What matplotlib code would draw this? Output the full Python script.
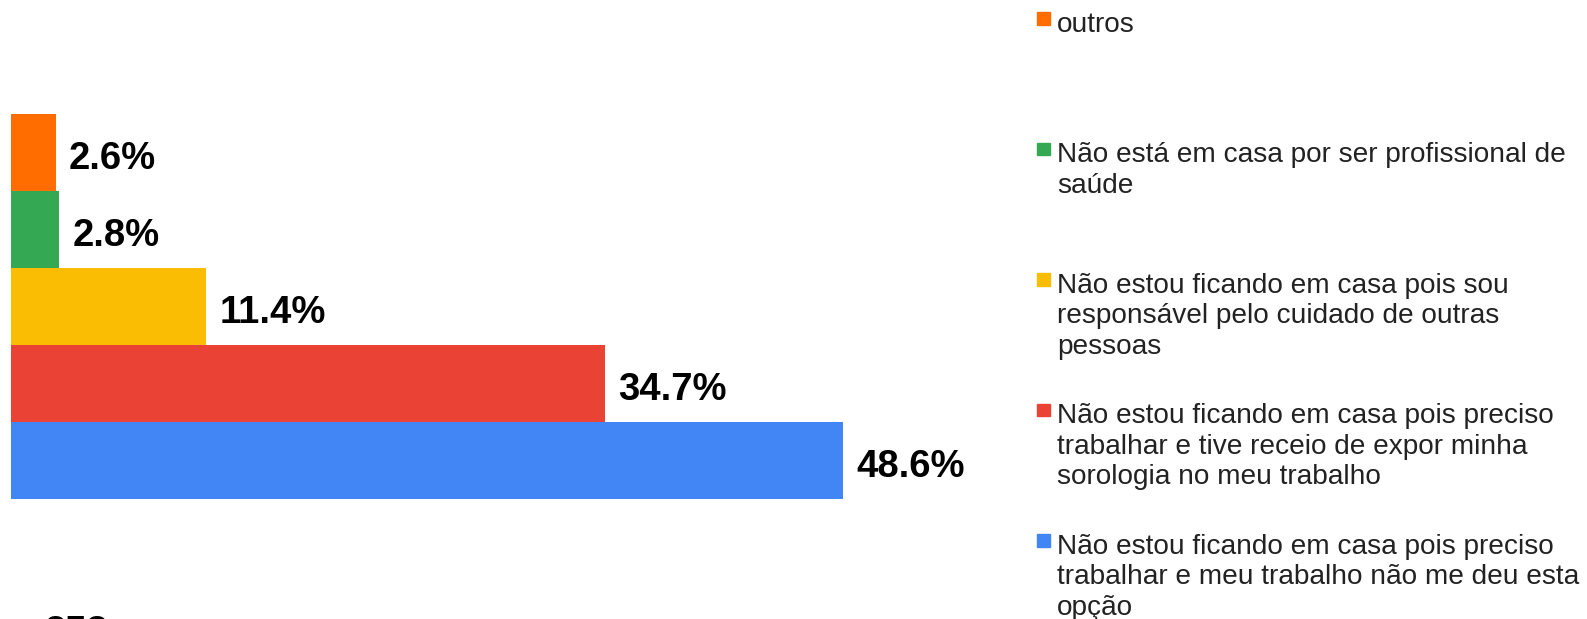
import matplotlib.pyplot as plt
import numpy as np

# respostas, de cima para baixo no gráfico
categorias = [
    'outros',
    'Não está em casa por ser profissional de\nsaúde',
    'Não estou ficando em casa pois sou\nresponsável pelo cuidado de outras\npessoas',
    'Não estou ficando em casa pois preciso\ntrabalhar e tive receio de expor minha\nsorologia no meu trabalho',
    'Não estou ficando em casa pois preciso\ntrabalhar e meu trabalho não me deu esta\nopção',
]
percentuais = [2.6, 2.8, 11.4, 34.7, 48.6]
cores = ['#ff6d01', '#34a853', '#fbbc04', '#ea4335', '#4285f4']
total = '253'

W, H = 1587, 619
plt.rcParams['font.family'] = ['Liberation Sans', 'DejaVu Sans']
fig = plt.figure(figsize=(W / 100, H / 100), dpi=100)

px_per_unit = 17.12
xmax = 58
ax = fig.add_axes([11 / W, (H - 499) / H, xmax * px_per_unit / W, 385 / H])

y = np.arange(len(percentuais))[::-1]
ax.barh(y, percentuais, height=1.0, color=cores, edgecolor='none')
ax.set_xlim(0, xmax)
ax.set_ylim(-0.5, len(percentuais) - 0.5)
ax.axis('off')

for yi, v in zip(y, percentuais):
    ax.annotate(f'{v:.1f}%', xy=(v, yi), xytext=(9.5, -4.5), textcoords='offset points',
                ha='left', va='center', fontsize=27.5, fontweight='bold', color='black')

# legenda manual
leg_top = 12
leg_step = 130.5
for i, (cat, cor) in enumerate(zip(categorias, cores)):
    top = leg_top + i * leg_step
    fig.patches.append(plt.Rectangle((1037 / W, 1 - (top + 12.5) / H), 12.5 / W, 12.5 / H,
                                     transform=fig.transFigure, color=cor, figure=fig))
    fig.text(1057 / W, 1 - (top - 0.5) / H, cat, ha='left', va='top',
             fontsize=20.2, linespacing=1.23, color='#222222')

fig.text(45 / W, 1 - 643 / H, total, ha='left', va='baseline', fontsize=27.5,
         fontweight='bold', color='black')

plt.savefig('out.png', dpi=100)
